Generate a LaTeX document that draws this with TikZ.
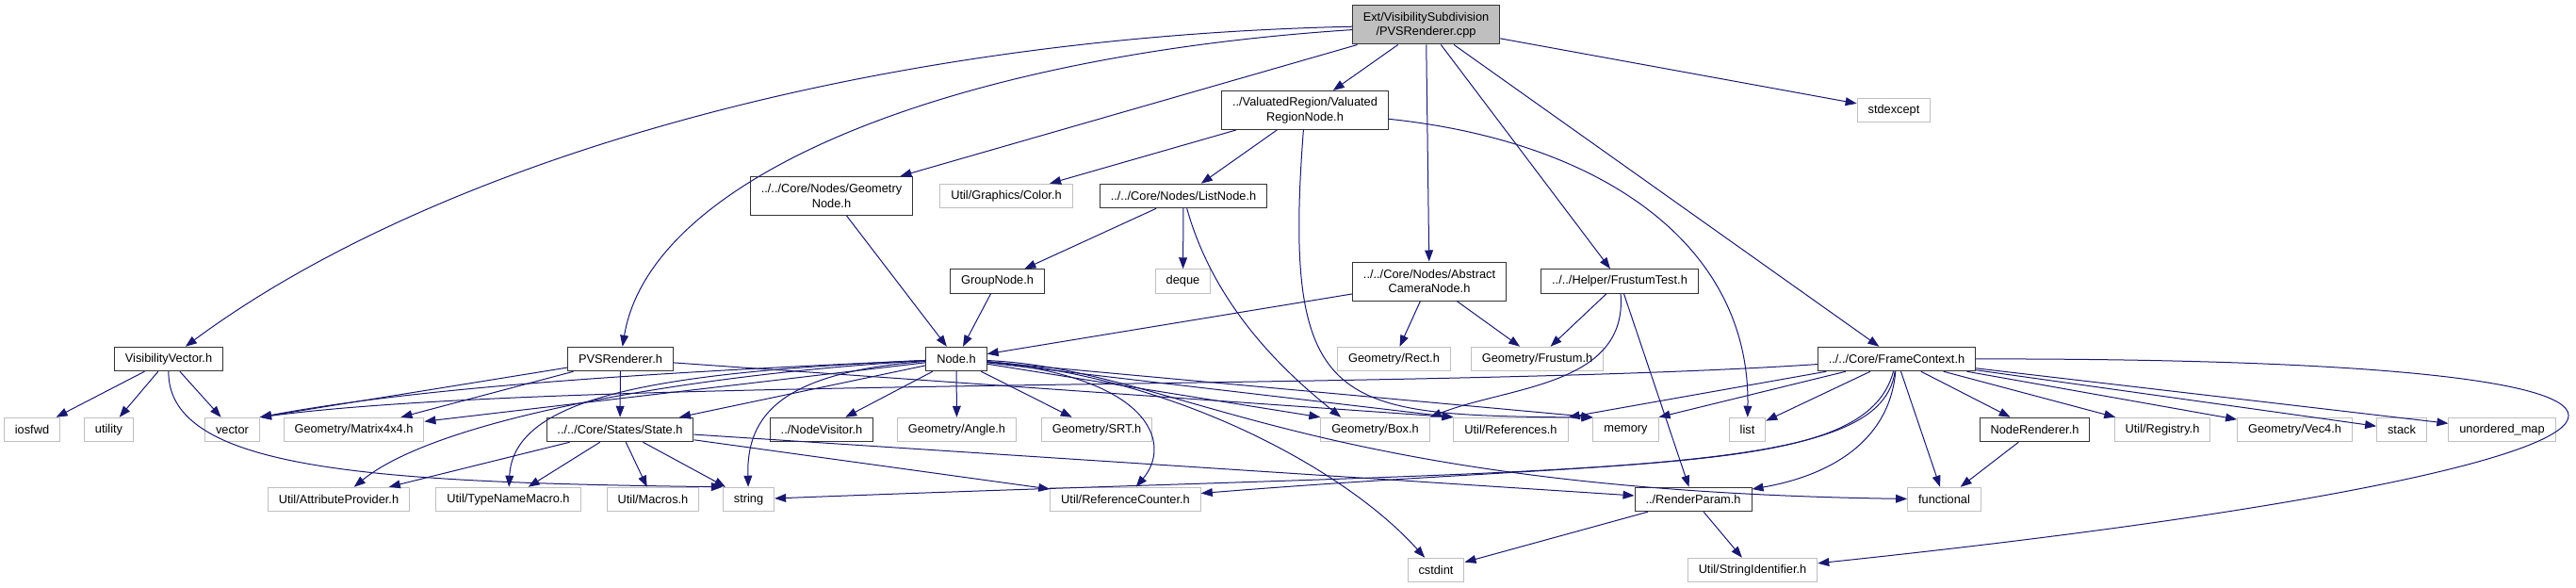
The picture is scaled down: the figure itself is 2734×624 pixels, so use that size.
\documentclass[tikz,border=0pt]{standalone}
\usepackage{fontspec}
\setmainfont{Liberation Sans}
\usetikzlibrary{arrows.meta}
\definecolor{edge}{RGB}{25,25,112}
\definecolor{sysb}{RGB}{191,191,191}
\definecolor{rootf}{RGB}{191,191,191}

\begin{document}
\begin{tikzpicture}[x=0.75pt,y=-0.75pt,
    hdr/.style={rectangle,draw=black!80,fill=white,line width=0.75pt,align=center,inner xsep=8.6pt,inner ysep=0pt,minimum height=19.1pt,font=\fontsize{9.6}{11.6}\selectfont},
    sys/.style={hdr,draw=sysb},
    two/.style={minimum height=30.75pt},
    arr/.style={-{Triangle[length=9pt,width=6.6pt]},line width=0.75pt,edge},
]
\path[use as bounding box,fill=white] (0,0) rectangle (2734,624);

% Root
\node[hdr,two,fill=rootf] (root) at (1513.5,26.5) {Ext/VisibilitySubdivision\\/PVSRenderer.cpp};

% Level 1
\node[hdr,two] (vrn) at (1385,117) {../ValuatedRegion/Valuated\\RegionNode.h};
\node[sys] (stdexcept) at (2010,117) {stdexcept};

% Level 2
\node[hdr,two] (geonode) at (882.5,208) {../../Core/Nodes/Geometry\\Node.h};
\node[sys] (color) at (1068,208) {Util/Graphics/Color.h};
\node[hdr] (listnode) at (1256,208) {../../Core/Nodes/ListNode.h};

% Level 3
\node[hdr] (groupnode) at (1058.5,298.5) {GroupNode.h};
\node[sys] (deque) at (1255.5,298.5) {deque};
\node[hdr,two] (camnode) at (1517,298.5) {../../Core/Nodes/Abstract\\CameraNode.h};
\node[hdr] (frustest) at (1719,298.5) {../../Helper/FrustumTest.h};

% Level 4
\node[hdr] (visvec) at (179,381) {VisibilityVector.h};
\node[hdr] (pvsh) at (658.5,381) {PVSRenderer.h};
\node[hdr] (nodeh) at (1015,381) {Node.h};
\node[sys] (rect) at (1479.5,381) {Geometry/Rect.h};
\node[sys] (frustum) at (1631.5,381) {Geometry/Frustum.h};
\node[hdr] (framectx) at (2013,381) {../../Core/FrameContext.h};

% Level 5
\node[sys] (iosfwd) at (34,456) {iosfwd};
\node[sys] (utility) at (115.5,456) {utility};
\node[sys] (vector) at (246.5,456) {vector};
\node[sys] (matrix) at (375.5,456) {Geometry/Matrix4x4.h};
\node[hdr] (state) at (658,456) {../../Core/States/State.h};
\node[hdr] (visitor) at (872,456) {../NodeVisitor.h};
\node[sys] (angle) at (1015.5,456) {Geometry/Angle.h};
\node[sys] (srt) at (1164,456) {Geometry/SRT.h};
\node[sys] (box) at (1459.5,456) {Geometry/Box.h};
\node[sys] (refs) at (1603.5,456) {Util/References.h};
\node[sys] (memory) at (1725.5,456) {memory};
\node[sys] (list) at (1854.5,456) {list};
\node[hdr] (noderend) at (2159.5,456) {NodeRenderer.h};
\node[sys] (registry) at (2295,456) {Util/Registry.h};
\node[sys] (vec4) at (2435.5,456) {Geometry/Vec4.h};
\node[sys] (stack) at (2549,456) {stack};
\node[sys] (umap) at (2655.5,456) {unordered\_map};

% Level 6
\node[sys] (attrprov) at (359.5,530) {Util/AttributeProvider.h};
\node[sys] (typename) at (539.5,530) {Util/TypeNameMacro.h};
\node[sys] (macros) at (693,530) {Util/Macros.h};
\node[sys] (string) at (794.5,530) {string};
\node[sys] (refcount) at (1194.5,530) {Util/ReferenceCounter.h};
\node[hdr] (renderparam) at (1797,530) {../RenderParam.h};
\node[sys] (functional) at (2063.5,530) {functional};

% Level 7
\node[sys] (cstdint) at (1524,605) {cstdint};
\node[sys] (strid) at (1860,605) {Util/StringIdentifier.h};

% From the cpp file
\draw[arr] (root) .. controls (900,40) and (450,180) .. (visvec);
\draw[arr] (root) .. controls (1000,60) and (690,190) .. (pvsh);
\draw[arr] (root) -- (geonode); \draw[arr] (root) -- (vrn); \draw[arr] (root) -- (camnode);
\draw[arr] (root) -- (frustest); \draw[arr] (root) -- (framectx); \draw[arr] (root) -- (stdexcept);

% ValuatedRegionNode, ListNode, cameras
\draw[arr] (vrn) -- (color); \draw[arr] (vrn) -- (listnode);
\draw[arr] (vrn) .. controls (1360,440) and (1420,440) .. (memory.160);
\draw[arr] (vrn) .. controls (1700,150) and (1858,260) .. (list);
\draw[arr] (geonode) -- (nodeh); \draw[arr] (groupnode) -- (nodeh);
\draw[arr] (listnode) -- (groupnode); \draw[arr] (listnode) -- (deque);
\draw[arr] (listnode) .. controls (1290,330) and (1370,400) .. (box.160);
\draw[arr] (camnode) -- (nodeh); \draw[arr] (camnode) -- (rect); \draw[arr] (camnode) -- (frustum);
\draw[arr] (frustest) -- (frustum); \draw[arr] (frustest) -- (renderparam);
\draw[arr] (frustest) .. controls (1728,410) and (1600,410) .. (box.north east);

% VisibilityVector.h, PVSRenderer.h
\draw[arr] (visvec) -- (iosfwd); \draw[arr] (visvec) -- (utility); \draw[arr] (visvec) -- (vector);
\draw[arr] (visvec) .. controls (178,500) and (400,512) .. (string.north west);
\draw[arr] (pvsh) -- (vector.north east); \draw[arr] (pvsh) -- (matrix); \draw[arr] (pvsh) -- (state);
\draw[arr] (pvsh) -- (refs.north west);

% Node.h
\draw[arr] (nodeh) .. controls (700,395) and (450,410) .. (vector.north east);
\draw[arr] (nodeh) -- (matrix); \draw[arr] (nodeh) -- (state);
\draw[arr] (nodeh) .. controls (700,395) and (545,420) .. (typename);
\draw[arr] (nodeh) .. controls (760,395) and (470,440) .. (attrprov);
\draw[arr] (nodeh) .. controls (830,395) and (792,440) .. (string);
\draw[arr] (nodeh) -- (visitor); \draw[arr] (nodeh) -- (angle); \draw[arr] (nodeh) -- (srt);
\draw[arr] (nodeh) -- (box.north west); \draw[arr] (nodeh) -- (refs.north west); \draw[arr] (nodeh) -- (memory.north west);
\draw[arr] (nodeh) .. controls (1220,400) and (1245,470) .. (refcount);
\draw[arr] (nodeh) .. controls (1250,400) and (1430,500) .. (cstdint);
\draw[arr] (nodeh) .. controls (1250,392) and (1380,520) .. (functional);

% State.h
\draw[arr] (state) -- (attrprov); \draw[arr] (state) -- (typename); \draw[arr] (state) -- (macros);
\draw[arr] (state) -- (string); \draw[arr] (state) -- (refcount); \draw[arr] (state) -- (renderparam);

% FrameContext.h
\draw[arr] (framectx) .. controls (1500,415) and (600,400) .. (vector.north east);
\draw[arr] (framectx) -- (refs.north east); \draw[arr] (framectx) -- (memory.north east); \draw[arr] (framectx) -- (list);
\draw[arr] (framectx) .. controls (1980,505) and (1750,485) .. (refcount);
\draw[arr] (framectx) .. controls (1995,510) and (1700,495) .. (string);
\draw[arr] (framectx) .. controls (2005,470) and (1940,505) .. (renderparam);
\draw[arr] (framectx) -- (functional); \draw[arr] (framectx) -- (noderend); \draw[arr] (framectx) -- (registry);
\draw[arr] (framectx) -- (vec4); \draw[arr] (framectx) -- (stack); \draw[arr] (framectx) -- (umap);
\draw[arr] (framectx) .. controls (3047,380) and (2861,500) .. (strid);

% Leaves
\draw[arr] (renderparam) -- (cstdint); \draw[arr] (renderparam) -- (strid);
\draw[arr] (noderend) -- (functional);
\end{tikzpicture}
\end{document}
